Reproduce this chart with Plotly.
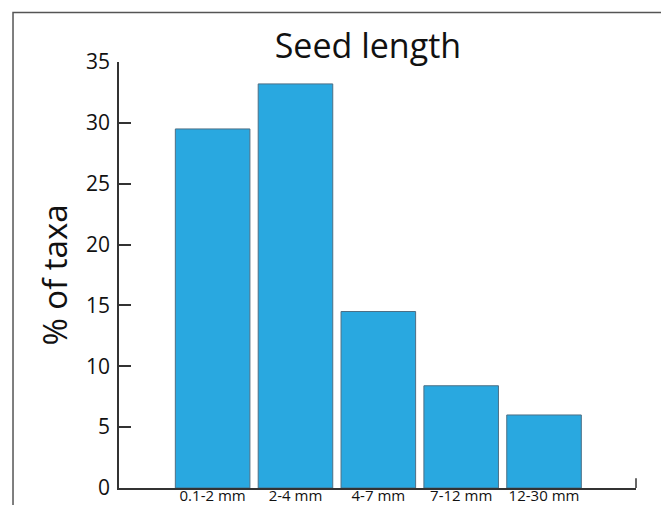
import plotly.graph_objects as go

categories = ["0.1-2 mm", "2-4 mm", "4-7 mm", "7-12 mm", "12-30 mm"]
values = [29.5, 33.2, 14.5, 8.4, 6.0]
y_ticks = [0, 5, 10, 15, 20, 25, 30, 35]

FONT = "Open Sans"
AX = "#333333"

fig = go.Figure(
    go.Bar(
        x=categories,
        y=values,
        width=0.9,
        marker=dict(color="#29A8E0", line=dict(color="#4d6f85", width=1)),
    )
)

fig.update_layout(
    width=669,
    height=505,
    margin=dict(l=111, r=41, t=54, b=25, autoexpand=False),
    paper_bgcolor="white",
    plot_bgcolor="white",
    showlegend=False,
    title=dict(
        text="Seed length",
        x=0.538,
        xref="container",
        xanchor="center",
        y=0.925,
        yref="container",
        yanchor="middle",
        font=dict(family=FONT, size=34, color="#111"),
    ),
    font=dict(family=FONT, color="#111"),
)

fig.update_xaxes(
    type="category",
    range=[-1.13, 5.11],
    showline=True,
    linecolor=AX,
    linewidth=1.5,
    showgrid=False,
    ticks="",
    ticklabelstandoff=-7,
    tickfont=dict(size=15, color="#111"),
    automargin=False,
)

fig.update_yaxes(
    range=[0, 35],
    tickvals=y_ticks,
    showline=True,
    linecolor=AX,
    linewidth=1.5,
    showgrid=False,
    zeroline=False,
    ticks="inside",
    ticklen=12,
    tickwidth=1.5,
    tickcolor=AX,
    ticklabelstandoff=3,
    tickfont=dict(size=21, color="#111"),
    title=dict(text="% of taxa", font=dict(size=33, color="#111"), standoff=8),
    automargin=False,
)

# small end tick at right end of x axis
fig.add_shape(type="line", xref="x domain", yref="y",
              x0=1, x1=1, y0=0, y1=0.8, line=dict(color=AX, width=1.5))
# outer frame
fig.add_shape(type="rect", xref="paper", yref="paper",
              x0=-0.205, x1=1.058, y0=-0.2, y1=1.116,
              line=dict(color="#555555", width=1.5), layer="below")

fig.write_html("out.html")
